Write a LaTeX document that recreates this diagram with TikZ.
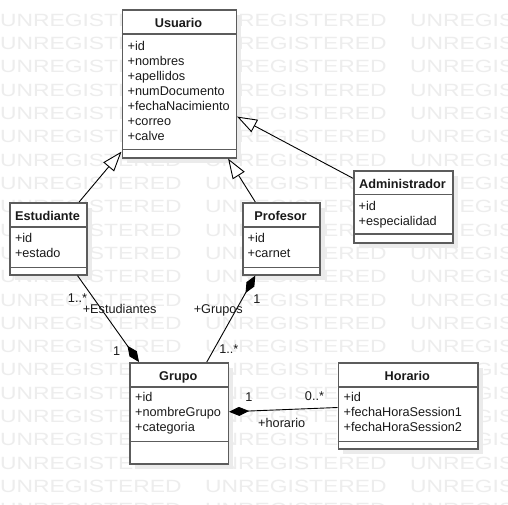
\documentclass[tikz,border=0pt]{standalone}
\usepackage{fontspec}
\setmainfont{Liberation Sans}
\usetikzlibrary{arrows.meta,shadows}
\definecolor{boxline}{HTML}{5C5C5C}
\definecolor{wmgray}{HTML}{EDEDED}
\definecolor{shadowgray}{HTML}{EBEBEB}
\definecolor{txt}{HTML}{1A1A1A}
\begin{document}
\begin{tikzpicture}[x=1pt,y=-1pt,
  cbox/.style={draw=boxline, line width=1.6pt, fill=white, inner sep=0pt, anchor=north west,
    drop shadow={shadow xshift=5pt, shadow yshift=-5pt, fill=shadowgray, opacity=1}},
  sepline/.style={draw=boxline, line width=1.6pt},
  ctitle/.style={font=\bfseries\fontsize{12.7}{15}\selectfont, inner sep=0pt, anchor=base, text=txt},
  attr/.style={font=\fontsize{12.7}{15}\selectfont, inner sep=0pt, anchor=base west, text=txt},
  lbl/.style={font=\fontsize{12.7}{15}\selectfont, inner sep=0pt, anchor=base, text=txt},
  wm/.style={font=\fontsize{17.7}{18}\selectfont, inner sep=0pt, anchor=west, text=wmgray},
  conn/.style={draw=black, line width=0.9pt},
  gen/.style={conn, -{Triangle[length=20pt, width=14pt, fill=white]}},
  comp/.style={conn, -{Diamond[length=20pt, width=9pt]}}
]
\useasboundingbox (0,0) rectangle (508,504);
\fill[white] (0,0) rectangle (508,504);

% watermark
\foreach \r in {0,...,21} {
  \foreach \c [count=\j] in {0,205,410} {
    \node[wm] (wm-\r-\j) at (\c, 20.3+23.3*\r) {\scalebox{1.29}[1]{UNREGISTERED}};
  }
}

% boxes
\node[cbox, minimum width=114pt, minimum height=148pt] (usuario) at (121.5,9) {};
\node[cbox, minimum width=77pt, minimum height=72pt] (estudiante) at (9,202) {};
\node[cbox, minimum width=77pt, minimum height=72pt] (profesor) at (242,202) {};
\node[cbox, minimum width=99pt, minimum height=72pt] (administrador) at (353,170) {};
\node[cbox, minimum width=98.5pt, minimum height=101pt] (grupo) at (129,362) {};
\node[cbox, minimum width=139.5pt, minimum height=86pt] (horario) at (337.5,362) {};

% separators
\draw[sepline] ([yshift=-25pt]usuario.north west) -- ([yshift=-25pt]usuario.north east);
\draw[sepline] ([yshift=9pt]usuario.south west) -- ([yshift=9pt]usuario.south east);
\draw[sepline] ([yshift=-25pt]estudiante.north west) -- ([yshift=-25pt]estudiante.north east);
\draw[sepline] ([yshift=8pt]estudiante.south west) -- ([yshift=8pt]estudiante.south east);
\draw[sepline] ([yshift=-25pt]profesor.north west) -- ([yshift=-25pt]profesor.north east);
\draw[sepline] ([yshift=8pt]profesor.south west) -- ([yshift=8pt]profesor.south east);
\draw[sepline] ([yshift=-24.3pt]administrador.north west) -- ([yshift=-24.3pt]administrador.north east);
\draw[sepline] ([yshift=9.5pt]administrador.south west) -- ([yshift=9.5pt]administrador.south east);
\draw[sepline] ([yshift=-25pt]grupo.north west) -- ([yshift=-25pt]grupo.north east);
\draw[sepline] ([yshift=23pt]grupo.south west) -- ([yshift=23pt]grupo.south east);
\draw[sepline] ([yshift=-25pt]horario.north west) -- ([yshift=-25pt]horario.north east);
\draw[sepline] ([yshift=8pt]horario.south west) -- ([yshift=8pt]horario.south east);

% titles
\node[ctitle] (usuario-t) at (178.5,27) {Usuario};
\node[ctitle] (estudiante-t) at (47.5,220) {Estudiante};
\node[ctitle] (profesor-t) at (280.5,220) {Profesor};
\node[ctitle] (administrador-t) at (402.5,188) {Administrador};
\node[ctitle] (grupo-t) at (178.25,380) {Grupo};
\node[ctitle] (horario-t) at (407.25,380) {Horario};

% attributes
\foreach \t [count=\i] in {+id,+nombres,+apellidos,+numDocumento,+fechaNacimiento,+correo,+calve}
  \node[attr] (usuario-a\i) at (127.5, 50+15.05*\i-15.05) {\t};
\foreach \t [count=\i] in {+id,+estado}
  \node[attr] (estudiante-a\i) at (14.8, 242.3+15*\i-15) {\t};
\foreach \t [count=\i] in {+id,+carnet}
  \node[attr] (profesor-a\i) at (247.5, 242.3+15*\i-15) {\t};
\foreach \t [count=\i] in {+id,+especialidad}
  \node[attr] (administrador-a\i) at (358.5, 210+15*\i-15) {\t};
\foreach \t [count=\i] in {+id,+nombreGrupo,+categoria}
  \node[attr] (grupo-a\i) at (135, 401.7+15*\i-15) {\t};
\foreach \t [count=\i] in {+id,+fechaHoraSession1,+fechaHoraSession2}
  \node[attr] (horario-a\i) at (343.5, 401.7+15*\i-15) {\t};

% connectors
\draw[gen] ([xshift=30.8pt]estudiante.north) -- ([yshift=7pt]usuario.south west);
\draw[gen] ([xshift=-26pt]profesor.north) -- ([xshift=-9pt]usuario.south east);
\draw[gen] ([yshift=-8.3pt]administrador.north west) -- ([yshift=42pt]usuario.south east);
\draw[comp] ([xshift=29.2pt]estudiante.south) -- ([xshift=10pt]grupo.north west);
\draw[comp] ([xshift=27.75pt]grupo.north) -- ([xshift=-26pt]profesor.south);
\draw[comp] ([yshift=-1.7pt]horario.west) -- ([yshift=1.5pt]grupo.east);

% connector labels
\node[lbl] (l-est-m) at (77.5,302.5) {1..*};
\node[lbl] (l-est-r) at (119.7,313) {+Estudiantes};
\node[lbl] (l-est-g) at (116.7,355) {1};
\node[lbl] (l-pro-m) at (257,303.3) {1};
\node[lbl] (l-pro-r) at (218.3,313) {+Grupos};
\node[lbl] (l-pro-g) at (228.8,353.3) {1..*};
\node[lbl] (l-hor-g) at (248.8,401.7) {1};
\node[lbl] (l-hor-m) at (314.5,400) {0..*};
\node[lbl] (l-hor-r) at (281.7,427) {+horario};
\end{tikzpicture}
\end{document}
